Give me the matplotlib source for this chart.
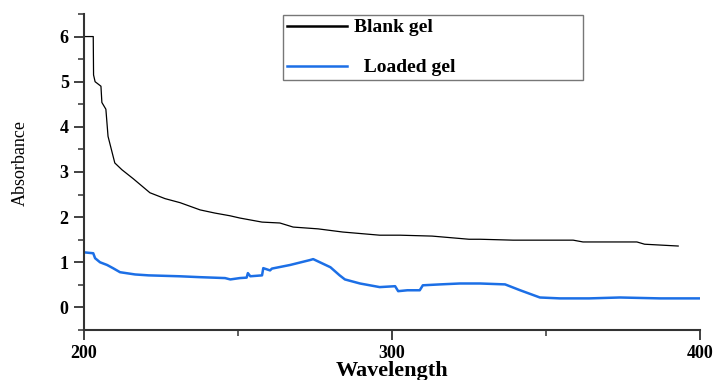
import matplotlib
matplotlib.use("Agg")
import matplotlib.pyplot as plt
from matplotlib.ticker import MultipleLocator

# UV-Vis absorbance spectra of the two gels
blank_wavelength = [200, 203, 203.1, 203.6, 205.5, 205.8, 207.1, 207.8, 209.4, 210,
                    212.3, 216, 221.4, 226.3, 231.2, 237.7, 242.5, 247.4, 250.6,
                    257.8, 263.6, 267.9, 276, 284, 296, 302.6, 313, 325, 328.6,
                    339.3, 358.8, 362, 379.5, 382, 392.9]
blank_absorbance = [6.0, 6.0, 5.15, 5.0, 4.9, 4.54, 4.39, 3.79, 3.36, 3.2,
                    3.05, 2.85, 2.54, 2.41, 2.32, 2.16, 2.09, 2.03, 1.98,
                    1.89, 1.87, 1.78, 1.74, 1.67, 1.60, 1.60, 1.58, 1.51, 1.51,
                    1.49, 1.49, 1.45, 1.45, 1.40, 1.36]

loaded_wavelength = [200, 203, 203.6, 205.2, 207.5, 209.4, 211.7, 216.6, 221, 231,
                     237.7, 245.8, 247.5, 250.6, 252.8, 253.2, 254, 257.8, 258.2,
                     260.4, 261, 266.9, 273.4, 274.4, 280, 283, 284.7, 289.6, 296,
                     301, 302, 305, 309, 310, 315.6, 322, 328.6, 336.7, 341.6, 348,
                     354.5, 364, 374, 387, 400]
loaded_absorbance = [1.22, 1.2, 1.09, 1.0, 0.94, 0.87, 0.78, 0.73, 0.71, 0.69,
                     0.67, 0.65, 0.62, 0.65, 0.66, 0.76, 0.69, 0.71, 0.87,
                     0.82, 0.86, 0.94, 1.05, 1.07, 0.89, 0.71, 0.62, 0.53, 0.45,
                     0.47, 0.36, 0.38, 0.38, 0.49, 0.51, 0.53, 0.53, 0.51, 0.38, 0.22,
                     0.2, 0.2, 0.22, 0.2, 0.2]

SERIF = ["Liberation Serif", "DejaVu Serif"]
BLUE = "#1c6fe6"

fig = plt.figure(figsize=(7.18, 3.80), dpi=100)
ax = fig.add_axes([0.117, 0.1316, 0.858, 0.8316])

ax.plot(blank_wavelength, blank_absorbance, color="black", linewidth=0.9,
        label="Blank gel")
ax.plot(loaded_wavelength, loaded_absorbance, color=BLUE, linewidth=1.8,
        label="  Loaded gel")

ax.set_xlim(200, 400)
ax.set_ylim(-0.5, 6.5)
ax.xaxis.set_major_locator(MultipleLocator(100))
ax.xaxis.set_minor_locator(MultipleLocator(50))
ax.yaxis.set_major_locator(MultipleLocator(1))
ax.yaxis.set_minor_locator(MultipleLocator(0.5))

for side in ["top", "right"]:
    ax.spines[side].set_visible(False)
for side in ["left", "bottom"]:
    ax.spines[side].set_linewidth(1.5)
    ax.spines[side].set_color("#333333")

ax.tick_params(which="major", direction="out", length=7, width=1.3,
               color="#333333", pad=4)
ax.tick_params(which="minor", direction="out", length=4, width=1.1,
               color="#333333")
for lab in ax.get_xticklabels() + ax.get_yticklabels():
    lab.set_fontfamily(SERIF)
    lab.set_fontweight("bold")
    lab.set_fontsize(13)

ax.set_xlabel("Wavelength", fontfamily=SERIF, fontweight="bold", fontsize=16,
              labelpad=-1)
ax.set_ylabel("Absorbance", fontfamily=SERIF, fontsize=13)
ax.yaxis.set_label_coords(-0.09, 0.53)

leg = ax.legend(loc="upper left", bbox_to_anchor=(0.323, 0.797, 0.487, 0.2),
                mode="expand", borderaxespad=0, fancybox=False,
                prop={"family": SERIF, "weight": "bold", "size": 14},
                handlelength=3.1, handletextpad=0.35, labelspacing=1.15,
                borderpad=0.2, framealpha=1)
leg.get_frame().set_edgecolor("#777777")
leg.get_frame().set_linewidth(1.0)
for h in leg.get_lines():
    h.set_linewidth(1.8)

fig.savefig("out.png", dpi=100)
